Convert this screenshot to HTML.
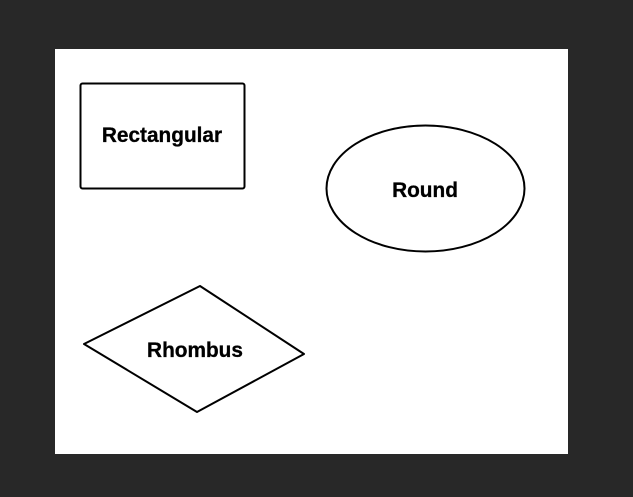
<!DOCTYPE html>
<html><head><style>
html,body{margin:0;padding:0;background:#282828;width:633px;height:497px;overflow:hidden}
svg{display:block}
text{font-family:"Liberation Sans",Arial,sans-serif;font-weight:bold;font-size:20.8px;fill:#000;stroke:#000;stroke-width:0.3}
</style></head><body>
<svg width="633" height="497" viewBox="0 0 633 497">
<rect x="55" y="49" width="513" height="405" fill="#fff"/>
<rect x="80.5" y="83.5" width="164" height="105" rx="2" fill="none" stroke="#000" stroke-width="2"/>
<text x="162" y="142" text-anchor="middle">Rectangular</text>
<ellipse cx="425.5" cy="188.5" rx="99" ry="63" fill="none" stroke="#000" stroke-width="2"/>
<text x="425" y="197" text-anchor="middle">Round</text>
<polygon points="84,344 200,286 304,354 197,412" fill="none" stroke="#000" stroke-width="2" stroke-linejoin="round"/>
<text x="195" y="357" text-anchor="middle">Rhombus</text>
</svg>
</body></html>
